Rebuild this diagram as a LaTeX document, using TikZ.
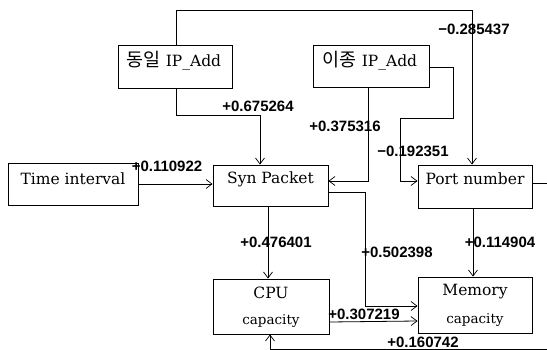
\documentclass[tikz,border=0pt]{standalone}
\usepackage{fontspec}
\setmainfont{DejaVu Serif}
\newfontfamily\kofont{Noto Sans CJK KR}
\newfontfamily\labfont{Liberation Sans}
\usetikzlibrary{arrows.meta}
\tikzset{
  box/.style={draw, line width=0.9pt, inner sep=0pt},
  boxtext/.style={font=\fontsize{15.5}{17}\selectfont, inner sep=0pt},
  conn/.style={line width=0.8pt},
  arr/.style={conn, -{Straight Barb[length=6pt, width=9pt, line width=0.7pt]}},
  lab/.style={font=\labfont\bfseries\fontsize{15}{16}\selectfont, inner sep=0pt}
}
\begin{document}
\begin{tikzpicture}[x=1pt,y=-1pt]
\useasboundingbox (0,0) rectangle (547,350);
% boxes
\node[box, minimum width=114pt, minimum height=43pt] (dong) at (175,66.5) {};
\node[box, minimum width=116pt, minimum height=42pt] (ijong) at (371,66) {};
\node[box, minimum width=130pt, minimum height=42pt] (time) at (73,184) {};
\node[box, minimum width=115pt, minimum height=41pt] (syn) at (270.5,185.5) {};
\node[box, minimum width=114pt, minimum height=43pt] (port) at (475,186.5) {};
\node[box, minimum width=116pt, minimum height=55pt] (cpu) at (271,306.5) {};
\node[box, minimum width=114pt, minimum height=56pt] (mem) at (475,305) {};
% box texts
\node[boxtext] (tdong) at (174,61) {{\kofont\fontsize{18.5}{19}\selectfont 동일} IP\_Add};
\node[boxtext] (tijong) at (370,61) {{\kofont\fontsize{18.5}{19}\selectfont 이종} IP\_Add};
\node[boxtext] (ttime) at (73,179) {Time interval};
\node[boxtext] (tsyn) at (270.5,179) {Syn Packet};
\node[boxtext] (tport) at (475,179) {Port number};
\node[boxtext] (tcpu1) at (271,293) {CPU};
\node[boxtext, font=\fontsize{13.5}{15}\selectfont] (tcpu2) at (271,321) {capacity};
\node[boxtext] (tmem1) at (475,292) {Memory};
\node[boxtext, font=\fontsize{13.5}{15}\selectfont] (tmem2) at (475,320) {capacity};
% helper coordinates
\coordinate (c1a) at (176,10);
\coordinate (c1b) at (472,10);
\coordinate (c2a) at (176,115);
\coordinate (c2b) at (260,115);
\coordinate (c4a) at (453,67);
\coordinate (c4b) at (453,118);
\coordinate (c4c) at (400,118);
\coordinate (c4d) at (400,181);
\coordinate (c6a) at (365,192);
\coordinate (c6b) at (365,306);
\coordinate (c10a) at (550,183);
\coordinate (c10b) at (550,349);
\coordinate (c10c) at (270,349);
% connectors
\draw[arr] (dong.north -| c1a) -- (c1a) -- (c1b) -- (port.north -| c1b);
\draw[arr] (dong.south -| c2a) -- (c2a) -- (c2b) -- (syn.north -| c2b);
\draw[arr] (ijong.south -| 368,0) -- (368,181) -- (syn.east |- 0,181);
\draw[arr] (ijong.east |- c4a) -- (c4a) -- (c4b) -- (c4c) -- (c4d) -- (port.west |- c4d);
\draw[arr] (time.east |- 0,184) -- (syn.west |- 0,184);
\draw[arr] (syn.east |- c6a) -- (c6a) -- (c6b) -- (mem.west |- c6b);
\draw[arr] (syn.south -| 268,0) -- (cpu.north -| 268,0);
\draw[arr] (port.south -| 473,0) -- (mem.north -| 473,0);
\draw[arr] (cpu.east |- 0,322) -- (mem.west |- 0,321);
\draw[arr] (port.east |- c10a) -- (c10a) -- (c10b) -- (c10c) -- (cpu.south -| c10c);
% labels
\node[lab] (l1) at (474,29) {−0.285437};
\node[lab] (l2) at (258,106) {+0.675264};
\node[lab] (l3) at (345,126) {+0.375316};
\node[lab] (l4) at (413,151) {−0.192351};
\node[lab] (l5) at (167,166) {+0.110922};
\node[lab] (l6) at (397,252) {+0.502398};
\node[lab] (l7) at (276,242) {+0.476401};
\node[lab] (l8) at (500,242) {+0.114904};
\node[lab] (l9) at (364,314) {+0.307219};
\node[lab] (l10) at (423,342) {+0.160742};
\end{tikzpicture}
\end{document}
